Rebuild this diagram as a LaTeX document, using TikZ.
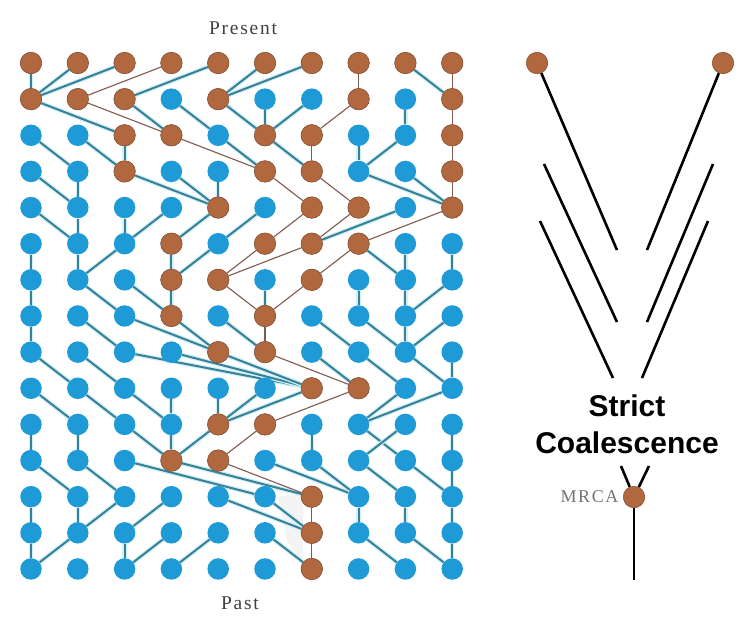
\documentclass[tikz,border=0pt]{standalone}
\usepackage{fontspec}
\setsansfont{Liberation Sans}
\newfontfamily\capfont[LetterSpace=9]{Liberation Serif}
\usetikzlibrary{positioning, backgrounds}
\definecolor{geneblue}{RGB}{30,155,215}
\definecolor{genebrown}{RGB}{178,104,62}
\definecolor{brownrim}{RGB}{140,82,52}
\definecolor{tealline}{RGB}{58,128,148}
\definecolor{glow}{RGB}{208,240,250}
\definecolor{brownline}{RGB}{128,90,76}
\tikzset{
    gene/.style={circle, fill=geneblue, minimum size=21.5pt, inner sep=0pt},
    ancestor/.style={circle, fill=genebrown, draw=brownrim, line width=0.6pt, minimum size=21.5pt, inner sep=0pt},
    link/.style={draw=tealline, line width=2pt, preaction={draw=glow, line width=4.5pt}},
    lineage/.style={draw=brownline, line width=1.1pt},
    stroke/.style={line width=2.6pt},
    caption_serif/.style={font=\capfont\fontsize{19.5}{22}\selectfont, text=black!75}
}

\begin{document}
\begin{tikzpicture}[x=1pt, y=-1pt]
\useasboundingbox (0,0) rectangle (744,629);

% gene copies, one row per generation, present at the top
\foreach \r in {1,...,15}
  \foreach \c in {1,...,10}
    \node (g\r-\c) [gene] at ({31+46.8*(\c-1)}, {63+36.14*(\r-1)}) {};

% ancestors of the sampled generation
\foreach \r/\c in {1/1,1/2,1/3,1/4,1/5,1/6,1/7,1/8,1/9,1/10,
                   2/1,2/2,2/3,2/5,2/8,2/10, 3/3,3/4,3/6,3/7,3/10,
                   4/3,4/6,4/7,4/10, 5/5,5/7,5/8,5/10, 6/4,6/6,6/7,6/8,
                   7/4,7/5,7/7, 8/4,8/6, 9/5,9/6, 10/7,10/8, 11/5,11/6,
                   12/4,12/5, 13/7, 14/7, 15/7}
  \node (g\r-\c) [ancestor] at ({31+46.8*(\c-1)}, {63+36.14*(\r-1)}) {};

\begin{scope}[on background layer]
  \fill[gray!9] (277,497) -- (303,493) -- (303,563) -- (287,541) -- (283,520) -- cycle;
  % child -> parent, row by row
  \foreach \r/\pairs in {
      1/{1/1,2/1,3/1,5/3,6/5,7/5,9/10},
      2/{1/3,3/4,4/5,5/6,6/6,7/6,9/9},
      3/{1/2,2/3,3/3,5/6,6/7,8/8,9/8},
      4/{1/2,2/2,3/5,4/5,5/5,8/10,9/10},
      5/{1/2,2/2,3/3,4/3,5/4,6/5,9/7},
      6/{1/1,2/2,3/2,4/4,5/4,8/9,9/9,10/10},
      7/{1/1,2/3,3/4,4/4,6/6,8/8,9/9,10/9},
      8/{1/1,2/3,3/5,4/5,5/6,7/8,8/9,9/9,10/9},
      9/{1/2,2/3,3/7,4/7,5/7,7/8,8/9,9/10,10/10},
      10/{1/2,2/3,3/4,4/4,5/5,6/5,7/5,9/8,10/8},
      11/{1/1,2/2,3/4,4/4,5/4,7/7,8/9,9/8,10/10},
      12/{1/2,2/3,3/6,4/7,6/8,7/8,8/9,9/10,10/10},
      13/{1/1,2/2,3/2,4/3,5/7,6/7,8/8,9/9,10/10},
      14/{1/1,2/1,3/3,4/3,5/4,6/7,8/9,9/10,10/10}} {
    \pgfmathtruncatemacro{\nx}{\r+1}
    \foreach \c/\p in \pairs
      \draw[link] (g\r-\c) -- (g\nx-\p);
  }
  % traced lineages
  \foreach \r/\c/\p in {1/4/2, 1/8/8, 1/10/10, 2/2/4, 2/8/7, 2/10/10,
                        3/4/6, 3/7/7, 3/10/10, 4/6/7, 4/7/8, 4/10/10,
                        5/7/6, 5/8/7, 5/10/8, 6/6/5, 6/7/5, 6/8/7,
                        7/5/6, 7/7/6, 8/6/6, 9/6/8, 10/8/6, 11/6/5,
                        12/5/7, 13/7/7, 14/7/7} {
    \pgfmathtruncatemacro{\nx}{\r+1}
    \draw[lineage] (g\r-\c) -- (g\nx-\p);
  }
\end{scope}

\node (present) [caption_serif] at (243,28) {Present};
\node (past) [caption_serif] at (240,603) {Past};

% strict coalescence sketch
\node (tipL) [ancestor] at (537,63) {};
\node (tipR) [ancestor] at (723,63) {};
\node (mrca) [ancestor] at (634,497) {};
\node (mrcalabel) [caption_serif, font=\capfont\fontsize{18}{20}\selectfont, text=black!55, left=1pt of mrca] {MRCA};
\node (title) [align=center, font=\sffamily\bfseries\fontsize{30}{37}\selectfont] at (627,424) {Strict\\Coalescence};

\coordinate (a1) at (617,250);
\coordinate (b1) at (647,250);
\coordinate (a2s) at (544,164);
\coordinate (a2) at (617,322);
\coordinate (b2s) at (713,164);
\coordinate (b2) at (647,322);
\coordinate (a3s) at (540,221);
\coordinate (a3) at (613,378);
\coordinate (b3s) at (708,221);
\coordinate (b3) at (642,378);
\coordinate (ja) at (621,466);
\coordinate (jb) at (649,466);
\coordinate (stem) at (634,580);

\draw[stroke] (tipL) -- (a1);
\draw[stroke] (tipR) -- (b1);
\draw[stroke] (a2s) -- (a2);
\draw[stroke] (b2s) -- (b2);
\draw[stroke] (a3s) -- (a3);
\draw[stroke] (b3s) -- (b3);
\draw[stroke] (ja) -- (mrca);
\draw[stroke] (jb) -- (mrca);
\draw[stroke] (mrca) -- (stem);
\end{tikzpicture}
\end{document}
